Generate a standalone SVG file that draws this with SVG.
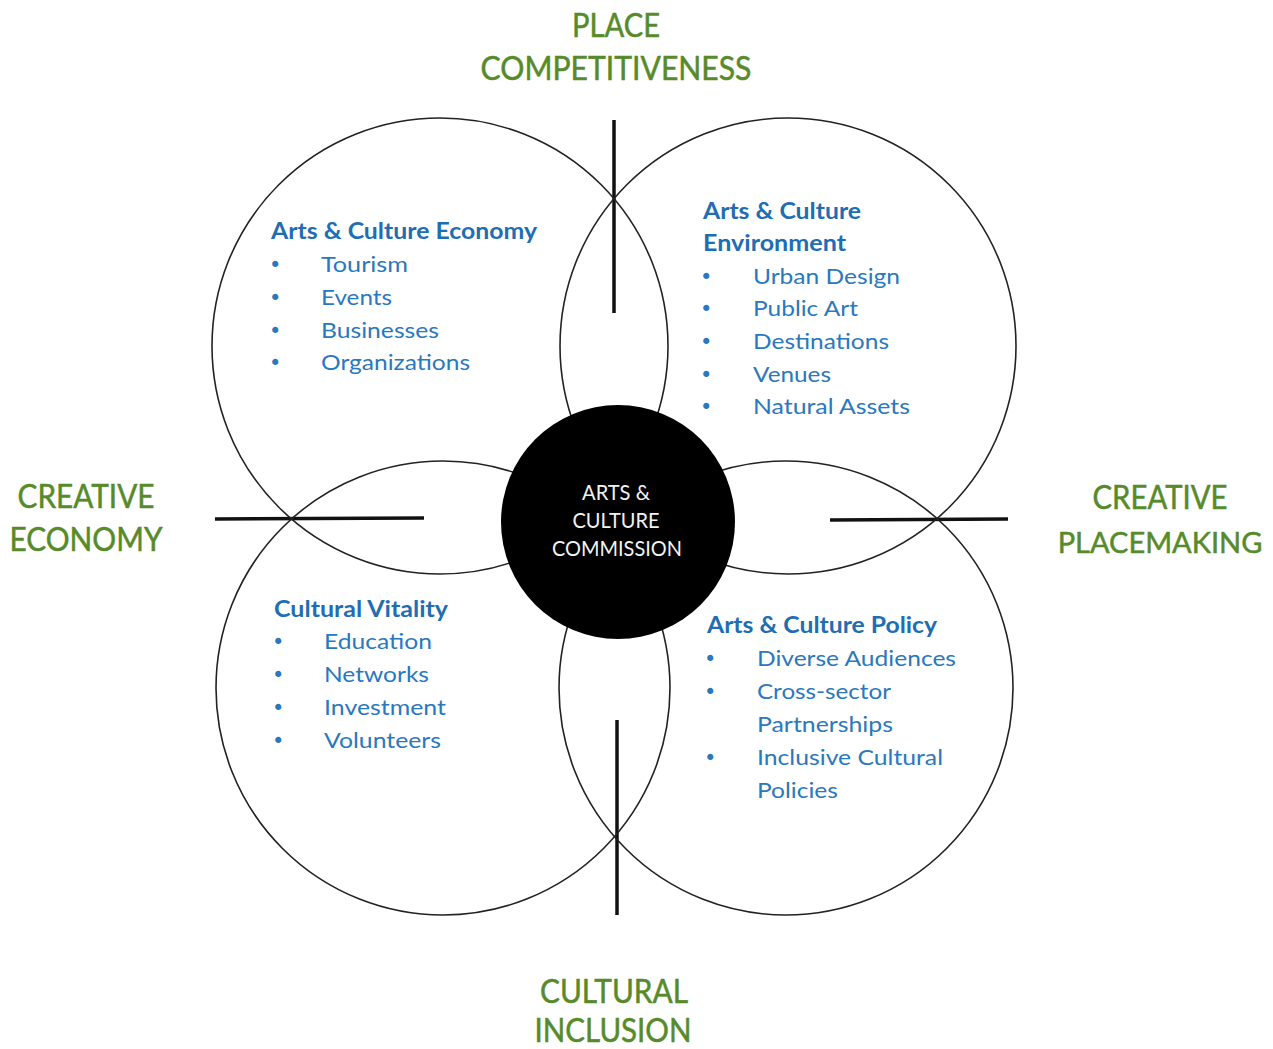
<svg xmlns="http://www.w3.org/2000/svg" width="1273" height="1049" viewBox="0 0 1273 1049">
<style>
.ring{fill:none;stroke:#222;stroke-width:1.6}
.hub{fill:#000}
.axis{stroke:#111;stroke-width:3.5;stroke-linecap:butt}
.green{font-family:Lato,"Liberation Sans",sans-serif;font-size:32px;fill:#578a2a;stroke:#578a2a;stroke-width:0.5;text-anchor:middle}
.hubt{font-family:Lato,"Liberation Sans",sans-serif;font-size:21px;fill:#f2f2f2;text-anchor:middle}
.head{font-family:Lato,"Liberation Sans",sans-serif;font-size:22px;font-weight:bold;fill:#1f6db3}
.item{font-family:Lato,"Liberation Sans",sans-serif;font-size:22px;fill:#2a78bd}
.bul{font-family:"DejaVu Sans",sans-serif;font-size:21px;fill:#2a78bd}
</style>
<rect width="1273" height="1049" fill="#fff"/>
<g id="connectors">
<line class="axis" x1="614" y1="120" x2="614" y2="313"/>
<line class="axis" x1="215" y1="519" x2="424" y2="518"/>
<line class="axis" x1="830" y1="520" x2="1008" y2="519"/>
<line class="axis" x1="617" y1="720" x2="617" y2="915"/>
</g>
<g id="node-economy">
<circle class="ring" cx="440" cy="346" r="228"/>
<text class="head" x="271" y="239" textLength="266" lengthAdjust="spacingAndGlyphs">Arts &amp; Culture Economy</text>
<text class="bul" x="269" y="272">•</text><text class="item" x="321" y="272" textLength="87" lengthAdjust="spacingAndGlyphs">Tourism</text>
<text class="bul" x="269" y="305">•</text><text class="item" x="321" y="305" textLength="71" lengthAdjust="spacingAndGlyphs">Events</text>
<text class="bul" x="269" y="338">•</text><text class="item" x="321" y="338" textLength="118" lengthAdjust="spacingAndGlyphs">Businesses</text>
<text class="bul" x="269" y="370">•</text><text class="item" x="321" y="370" textLength="149" lengthAdjust="spacingAndGlyphs">Organizations</text>
</g>
<g id="node-environment">
<circle class="ring" cx="788" cy="346" r="228"/>
<text class="head" x="703" y="219" textLength="158" lengthAdjust="spacingAndGlyphs">Arts &amp; Culture</text>
<text class="head" x="703" y="251" textLength="143" lengthAdjust="spacingAndGlyphs">Environment</text>
<text class="bul" x="700" y="284">•</text><text class="item" x="753" y="284" textLength="147" lengthAdjust="spacingAndGlyphs">Urban Design</text>
<text class="bul" x="700" y="316">•</text><text class="item" x="753" y="316" textLength="105" lengthAdjust="spacingAndGlyphs">Public Art</text>
<text class="bul" x="700" y="349">•</text><text class="item" x="753" y="349" textLength="136" lengthAdjust="spacingAndGlyphs">Destinations</text>
<text class="bul" x="700" y="382">•</text><text class="item" x="753" y="382" textLength="78" lengthAdjust="spacingAndGlyphs">Venues</text>
<text class="bul" x="700" y="414">•</text><text class="item" x="753" y="414" textLength="157" lengthAdjust="spacingAndGlyphs">Natural Assets</text>
</g>
<g id="node-vitality">
<circle class="ring" cx="443" cy="688" r="227"/>
<text class="head" x="274" y="617" textLength="174" lengthAdjust="spacingAndGlyphs">Cultural Vitality</text>
<text class="bul" x="272" y="649">•</text><text class="item" x="324" y="649" textLength="108" lengthAdjust="spacingAndGlyphs">Education</text>
<text class="bul" x="272" y="682">•</text><text class="item" x="324" y="682" textLength="105" lengthAdjust="spacingAndGlyphs">Networks</text>
<text class="bul" x="272" y="715">•</text><text class="item" x="324" y="715" textLength="122" lengthAdjust="spacingAndGlyphs">Investment</text>
<text class="bul" x="272" y="748">•</text><text class="item" x="324" y="748" textLength="117" lengthAdjust="spacingAndGlyphs">Volunteers</text>
</g>
<g id="node-policy">
<circle class="ring" cx="786" cy="688" r="227"/>
<text class="head" x="707" y="633" textLength="230" lengthAdjust="spacingAndGlyphs">Arts &amp; Culture Policy</text>
<text class="bul" x="704" y="666">•</text><text class="item" x="757" y="666" textLength="199" lengthAdjust="spacingAndGlyphs">Diverse Audiences</text>
<text class="bul" x="704" y="699">•</text><text class="item" x="757" y="699" textLength="134" lengthAdjust="spacingAndGlyphs">Cross-sector</text>
<text class="item" x="757" y="732" textLength="136" lengthAdjust="spacingAndGlyphs">Partnerships</text>
<text class="bul" x="704" y="765">•</text><text class="item" x="757" y="765" textLength="186" lengthAdjust="spacingAndGlyphs">Inclusive Cultural</text>
<text class="item" x="757" y="798" textLength="81" lengthAdjust="spacingAndGlyphs">Policies</text>
</g>
<g id="node-commission">
<circle class="hub" cx="618" cy="522" r="117"/>
<text class="hubt" x="616" y="500" textLength="68" lengthAdjust="spacingAndGlyphs">ARTS &amp;</text>
<text class="hubt" x="616" y="528" textLength="87" lengthAdjust="spacingAndGlyphs">CULTURE</text>
<text class="hubt" x="617" y="556" textLength="130" lengthAdjust="spacingAndGlyphs">COMMISSION</text>
</g>
<g id="label-place">
<text class="green" x="616" y="37" textLength="88" lengthAdjust="spacingAndGlyphs">PLACE</text>
<text class="green" x="616" y="80" textLength="271" lengthAdjust="spacingAndGlyphs">COMPETITIVENESS</text>
</g>
<g id="label-economy">
<text class="green" x="86" y="508" textLength="137" lengthAdjust="spacingAndGlyphs">CREATIVE</text>
<text class="green" x="86" y="551" textLength="153" lengthAdjust="spacingAndGlyphs">ECONOMY</text>
</g>
<g id="label-placemaking">
<text class="green" x="1160" y="509" textLength="135" lengthAdjust="spacingAndGlyphs">CREATIVE</text>
<text class="green" x="1160" y="553" style="font-size:29px">PLACEMAKING</text>
</g>
<g id="label-inclusion">
<text class="green" x="614" y="1003" textLength="148" lengthAdjust="spacingAndGlyphs">CULTURAL</text>
<text class="green" x="613" y="1042" textLength="157" lengthAdjust="spacingAndGlyphs">INCLUSION</text>
</g>
</svg>
